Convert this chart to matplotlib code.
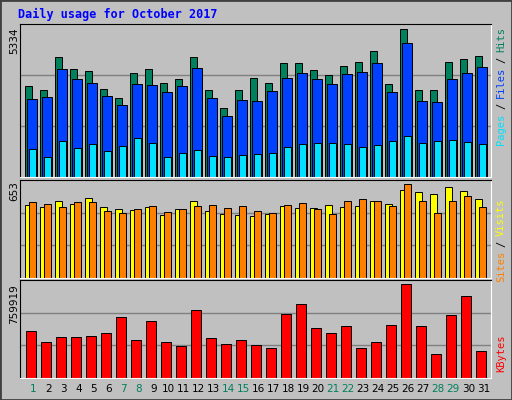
import matplotlib.pyplot as plt
from matplotlib.patches import Rectangle
import numpy as np

days = list(range(1, 32))
weekend = [1, 7, 8, 14, 15, 21, 22, 28, 29]

hits = [3271, 3126, 4321, 3886, 3814, 3162, 2836, 3742, 3886, 3379, 3524, 4321, 3126, 2474, 3126, 3560,
        3379, 4104, 4104, 3850, 3669, 3995, 4140, 4538, 3343, 5334, 3126, 3126, 4140, 4248, 4357]
files = [2800, 2873, 3886, 3524, 3379, 2909, 2583, 3343, 3307, 3054, 3271, 3923, 2836, 2185, 2764, 2728,
         3090, 3560, 3742, 3524, 3343, 3705, 3778, 4104, 3054, 4828, 2728, 2692, 3524, 3742, 3959]
pages = [1026, 736, 1316, 1062, 1207, 954, 1135, 1424, 1243, 736, 881, 990, 772, 736, 809, 845,
         881, 1098, 1207, 1243, 1243, 1207, 1098, 1171, 1316, 1497, 1243, 1316, 1352, 1279, 1207]
sites = [511, 497, 539, 518, 561, 497, 483, 476, 497, 440, 483, 539, 468, 447, 440, 433,
         447, 504, 490, 490, 511, 497, 504, 539, 518, 610, 596, 582, 632, 603, 554]
visits = [532, 518, 497, 532, 532, 468, 454, 483, 504, 461, 483, 504, 511, 490, 504, 468,
          454, 511, 525, 483, 447, 539, 554, 539, 504, 653, 539, 454, 539, 568, 497]
kbytes = [385000, 294000, 336000, 336000, 344000, 361000, 494000, 311000, 460000, 294000, 261000,
          552000, 327000, 277000, 311000, 269000, 244000, 519000, 602000, 402000, 361000, 419000,
          244000, 294000, 427000, 759919, 419000, 194000, 510000, 668000, 219000]

BG = "#c0c0c0"
MONO = "DejaVu Sans Mono"
W, H = 512, 400

fig = plt.figure(figsize=(W / 100, H / 100), dpi=100, facecolor=BG)
fig.patches.append(Rectangle((0, 0), 1, 1, transform=fig.transFigure, fill=False,
                             edgecolor="#404040", lw=2))
fig.text(18 / W, 1 - 14 / H, "Daily usage for October 2017", color="#0000ff",
         fontsize=8.5, fontweight="bold", family=MONO, va="center")

x0 = np.arange(31) * 15.0 + 25.3  # pixel-like x positions of each day's slot


def panel(top, bottom, ymax):
    ax = fig.add_axes([20 / W, 1 - bottom / H, 471 / W, (bottom - top) / H])
    ax.set_facecolor(BG)
    ax.set_xlim(20, 491)
    ax.set_ylim(0, ymax)
    for g in (ymax / 3, 2 * ymax / 3):
        ax.axhline(g, color="#808080", lw=1, zorder=0)
    ax.set_xticks([])
    ax.set_yticks([])
    for s in ax.spines.values():
        s.set_color("black")
    ax.spines["right"].set_color("white")
    ax.spines["bottom"].set_color("white")
    return ax


kw = dict(align="edge", edgecolor="black", linewidth=0.7)

ax1 = panel(24, 177, 5334 * 153 / 147.7)
ax1.bar(x0, hits, width=7.0, color="#00805c", **kw)
ax1.bar(x0 + 2, files, width=10.0, color="#0040ff", **kw)
ax1.bar(x0 + 4, pages, width=7.0, color="#00e0ff", **kw)

ax2 = panel(180, 278, 653 * 98 / 93.7)
ax2.bar(x0, sites, width=7.0, color="#ffff00", **kw)
ax2.bar(x0 + 4, visits, width=7.0, color="#ff8000", **kw)

ax3 = panel(280, 378, 759919 * 98 / 93.7)
ax3.bar(x0 + 1, kbytes, width=10.0, color="#ff0000", **kw)

for d, xp in zip(days, x0):
    fig.text((xp + 8) / W, 1 - 389 / H, str(d), ha="center", va="center", fontsize=7.5,
             family="DejaVu Sans", color="#00805c" if d in weekend else "black")

# max values on the left
for label, y in [("5334", 28), ("653", 181), ("759919", 284)]:
    fig.text(14 / W, 1 - y / H, label, rotation=90, ha="center", va="top",
             fontsize=7.5, family="DejaVu Sans")


def side(parts, y):
    for txt, col in parts:
        fig.text(501 / W, 1 - y / H, txt, rotation=90, ha="center", va="top",
                 fontsize=7.5, family=MONO, color=col)
        y += 6.4 * len(txt) + 4


side([("Hits", "#00805c"), ("/", "black"), ("Files", "#0040ff"), ("/", "black"),
      ("Pages", "#00e0ff")], 27)
side([("Visits", "#ffff00"), ("/", "black"), ("Sites", "#ff8000")], 198)
side([("KBytes", "#ff0000")], 334)

fig.savefig("out.png", dpi=100, facecolor=BG)
